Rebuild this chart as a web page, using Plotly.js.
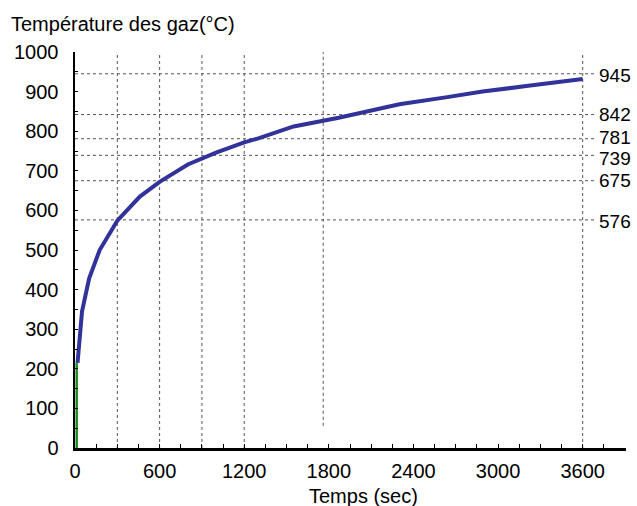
<!DOCTYPE html>
<html>
<head>
<meta charset="utf-8">
<script src="https://cdn.plot.ly/plotly-3.0.1.min.js"></script>
<style>html,body{margin:0;padding:0;background:#fff}#chart{width:637px;height:506px}</style>
</head>
<body>
<div id="chart"></div>
<script>
// Blue curve: gas temperature vs time
const timeSec = [18, 50, 100, 175, 300, 460, 600, 690, 800, 1000, 1200, 1300, 1550, 1870, 2300, 2640, 2890, 3200, 3600];
const tempC   = [215, 345, 428, 500, 574, 635, 672, 692, 716, 746, 772, 782, 812, 834, 868, 886, 900, 914, 932];
// Green initial segment
const greenTime = [12, 12];
const greenTemp = [0, 215];
// Reference levels (right labels) and reference times (vertical lines)
const refLevels = [945, 842, 781, 739, 675, 576];
const refTimes = [300, 600, 900, 1200, 3600];
const extraTime = 1760;
const extraRange = [56, 1053];
const xTickVals = [0, 600, 1200, 1800, 2400, 3000, 3600];
const yTickVals = [0, 100, 200, 300, 400, 500, 600, 700, 800, 900, 1000];
const yTitle = "Température des gaz(°C)";
const xTitle = "Temps (sec)";

const FONT = "Arial, 'Liberation Sans', sans-serif";
const FS = 20;
const gridLine = {color: "#555", width: 1, dash: "dot"};
const LABEL_X = 3705;
const labelShift = [-2, 0, 1, -3, 0, -2];

const shapes = [];
refLevels.forEach(v => shapes.push({type: "line", xref: "x", yref: "y", x0: 0, x1: LABEL_X - 10, y0: v, y1: v, line: gridLine, layer: "below"}));
refTimes.forEach(t => shapes.push({type: "line", xref: "x", yref: "y", x0: t, x1: t, y0: 0, y1: 1000, line: gridLine, layer: "below"}));
shapes.push({type: "line", xref: "x", yref: "y", x0: extraTime, x1: extraTime, y0: extraRange[0], y1: extraRange[1], line: gridLine, layer: "below"});

const annotations = refLevels.map((v, i) => ({
  xref: "x", yref: "y", x: LABEL_X, y: v, text: String(v), showarrow: false,
  xanchor: "left", yanchor: "middle", yshift: labelShift[i], borderpad: 0,
  font: {family: FONT, size: 19, color: "#000"}
}));
annotations.push({xref: "paper", yref: "paper", x: -0.12, y: 1.071, text: yTitle, showarrow: false,
  xanchor: "left", yanchor: "middle", font: {family: FONT, size: FS, color: "#000"}});
annotations.push({xref: "paper", yref: "paper", x: 0.523, y: -0.088, text: xTitle, showarrow: false,
  xanchor: "center", yanchor: "top", font: {family: FONT, size: FS, color: "#000"}});

const traces = [
  {x: greenTime, y: greenTemp, mode: "lines", line: {color: "#1a8c1a", width: 2.5}, hoverinfo: "skip", cliponaxis: false},
  {x: timeSec, y: tempC, mode: "lines", line: {color: "#31329a", width: 4}, hoverinfo: "skip"}
];

const layout = {
  width: 637, height: 506,
  margin: {l: 74.5, r: 11, t: 52, b: 58},
  paper_bgcolor: "#fff", plot_bgcolor: "#fff",
  showlegend: false,
  font: {family: FONT, size: FS, color: "#000"},
  xaxis: {
    range: [0, 3907], tickvals: xTickVals, ticktext: xTickVals.map(String),
    showgrid: false, zeroline: false, showline: true, linecolor: "#000", linewidth: 2.5,
    ticks: "inside", ticklen: 4, tickcolor: "#000", tickwidth: 1,
    minor: {dtick: 150, tick0: 0, ticks: "inside", ticklen: 4, tickcolor: "#000", tickwidth: 1, showgrid: false},
    tickfont: {family: FONT, size: FS, color: "#000"}, ticklabelstandoff: 3
  },
  yaxis: {
    range: [0, 1000], tickvals: yTickVals, ticktext: yTickVals.map(String),
    showgrid: false, zeroline: false, showline: true, linecolor: "#000", linewidth: 2.5,
    ticks: "inside", ticklen: 3, tickcolor: "#000", tickwidth: 1,
    minor: {dtick: 50, tick0: 0, ticks: "inside", ticklen: 3, tickcolor: "#000", tickwidth: 1, showgrid: false},
    tickfont: {family: FONT, size: FS, color: "#000"}, ticklabelstandoff: 10
  },
  shapes: shapes,
  annotations: annotations
};

Plotly.newPlot("chart", traces, layout, {displayModeBar: false, staticPlot: true});
</script>
</body>
</html>
